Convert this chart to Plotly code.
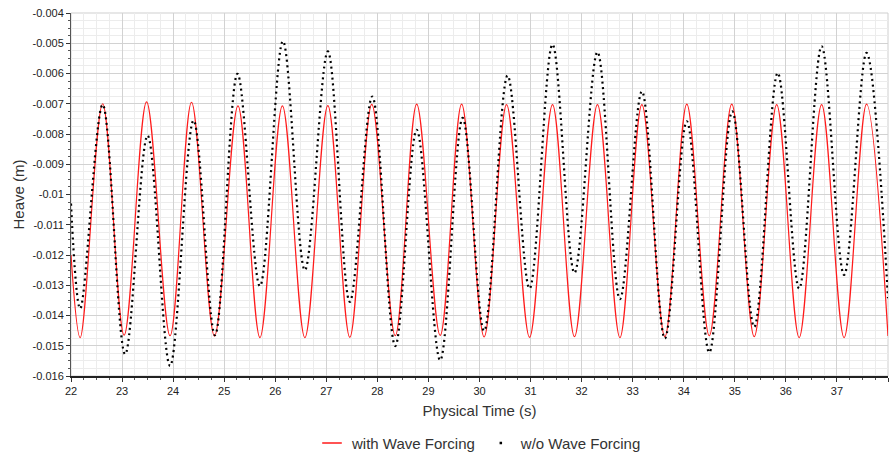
import plotly.graph_objects as go

# ---- data (extrema of each oscillation) ----
red_t = [22.0, 22.18, 22.62, 23.04, 23.48, 23.94, 24.36, 24.81, 25.27, 25.70, 26.14, 26.58,
         27.03, 27.46, 27.89, 28.35, 28.77, 29.23, 29.65, 30.09, 30.53, 30.98, 31.43, 31.86,
         32.31, 32.75, 33.18, 33.63, 34.06, 34.50, 34.94, 35.38, 35.82, 36.26, 36.70, 37.14,
         37.58, 38.0]
red_h = [-0.0120, -0.01473, -0.00700, -0.01465, -0.00694, -0.01467, -0.00695, -0.01468,
         -0.00707, -0.01473, -0.00707, -0.01473, -0.00706, -0.01472, -0.00702, -0.01467,
         -0.00701, -0.01466, -0.00701, -0.01471, -0.00703, -0.01472, -0.00703, -0.01470,
         -0.00703, -0.01473, -0.00703, -0.01470, -0.00701, -0.01467, -0.00701, -0.01470,
         -0.00703, -0.01473, -0.00703, -0.01473, -0.00701, -0.01468]

black_t = [22.0, 22.18, 22.62, 23.06, 23.50, 23.94, 24.40, 24.82, 25.26, 25.70, 26.15, 26.58,
           27.03, 27.46, 27.90, 28.35, 28.77, 29.23, 29.67, 30.09, 30.55, 30.98, 31.43, 31.86,
           32.31, 32.75, 33.18, 33.63, 34.06, 34.50, 34.95, 35.38, 35.84, 36.26, 36.70, 37.14,
           37.58, 38.0]
black_h = [-0.0103, -0.01377, -0.00703, -0.01528, -0.00805, -0.01567, -0.00755, -0.01465,
           -0.00601, -0.01303, -0.00493, -0.01250, -0.00527, -0.01355, -0.00676, -0.01501,
           -0.00786, -0.01548, -0.00747, -0.01451, -0.00607, -0.01311, -0.00504, -0.01259,
           -0.00529, -0.01346, -0.00659, -0.01476, -0.00758, -0.01522, -0.00725, -0.01438,
           -0.00598, -0.01311, -0.00510, -0.01266, -0.00532, -0.01343]

y_tick_vals = [-0.004, -0.005, -0.006, -0.007, -0.008, -0.009, -0.010, -0.011, -0.012,
               -0.013, -0.014, -0.015, -0.016]
y_tick_text = ["-0.004", "-0.005", "-0.006", "-0.007", "-0.008", "-0.009", "-0.01",
               "-0.011", "-0.012", "-0.013", "-0.014", "-0.015", "-0.016"]
x_tick_vals = list(range(22, 39))
x_tick_text = [str(v) for v in x_tick_vals]

FONT = "Liberation Sans, Arial, sans-serif"

fig = go.Figure()
fig.add_trace(go.Scatter(
    x=red_t, y=red_h, mode="lines", name="with Wave Forcing",
    line=dict(color="#ff1a1a", width=1.2, shape="spline", smoothing=1.0),
    showlegend=False,
))
fig.add_trace(go.Scatter(
    x=black_t, y=black_h, mode="lines", name="w/o Wave Forcing",
    line=dict(color="#000000", width=2.2, shape="spline", smoothing=1.0, dash="2px,3.6px"),
    showlegend=False,
))
# legend entries
fig.add_trace(go.Scatter(
    x=[None], y=[None], mode="markers", name="with Wave Forcing",
    marker=dict(symbol="line-ew", size=14, line=dict(color="#ff1a1a", width=1.5)),
))
fig.add_trace(go.Scatter(
    x=[None], y=[None], mode="markers", name="w/o Wave Forcing",
    marker=dict(symbol="square", size=2.5, color="#000000"),
))

fig.update_layout(
    width=891, height=456,
    margin=dict(l=71, r=3, t=13, b=80, autoexpand=False),
    paper_bgcolor="white", plot_bgcolor="white",
    font=dict(family=FONT, size=11, color="#222"),
    legend=dict(orientation="h", x=0.5, xanchor="center", y=-0.185, yanchor="middle",
                font=dict(family=FONT, size=15, color="#333"), itemwidth=30,
                tracegroupgap=0),
    xaxis=dict(
        range=[22, 38], tickvals=x_tick_vals, ticktext=x_tick_text,
        showgrid=True, gridcolor="#d2d2d2", gridwidth=1,
        ticks="outside", ticklen=4, tickcolor="#333",
        minor=dict(dtick=0.25, showgrid=True, gridcolor="#ececec", ticks="outside",
                   ticklen=2, tickcolor="#555"),
        showline=True, linecolor="#222", linewidth=2,
        zeroline=False,
        tickfont=dict(size=11, color="#222"),
        title=dict(text="Physical Time (s)", font=dict(size=15, color="#333"), standoff=9),
    ),
    yaxis=dict(
        range=[-0.016, -0.004], tickvals=y_tick_vals, ticktext=y_tick_text,
        showgrid=True, gridcolor="#d2d2d2", gridwidth=1,
        ticks="outside", ticklen=4, tickcolor="#333",
        minor=dict(dtick=0.00025, showgrid=True, gridcolor="#ececec", ticks="outside",
                   ticklen=2, tickcolor="#555"),
        showline=True, linecolor="#555", linewidth=1,
        zeroline=False,
        tickfont=dict(size=11, color="#222"),
        title=dict(text="Heave (m)", font=dict(size=15, color="#333"), standoff=4),
    ),
    shapes=[dict(type="rect", xref="paper", yref="paper", x0=0, x1=1, y0=0, y1=1,
                 line=dict(color="#cfcfcf", width=1), layer="below")],
)

fig.write_html("out.html")
